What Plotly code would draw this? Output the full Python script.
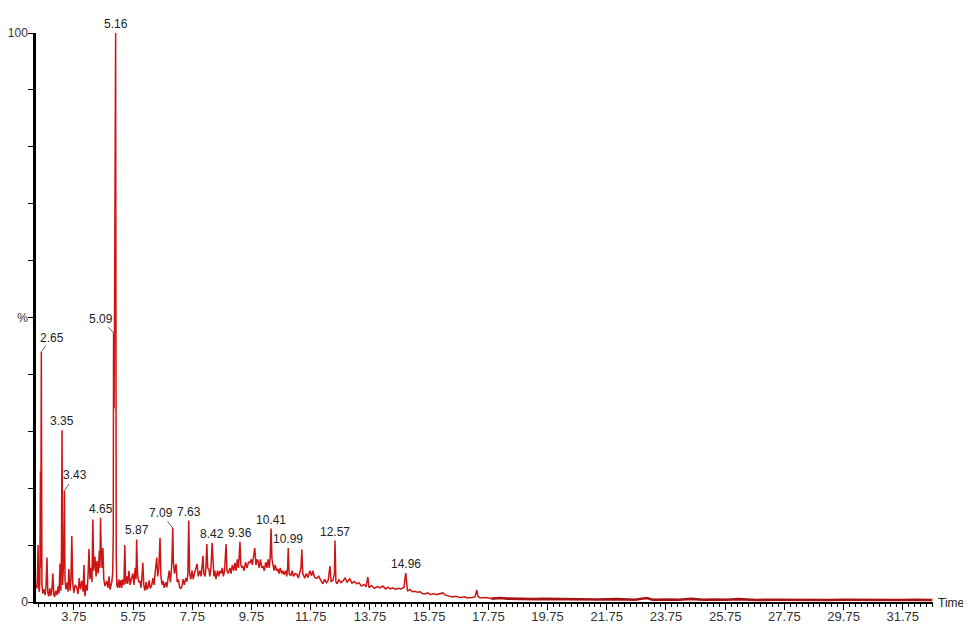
import plotly.graph_objects as go

# ---- data: retention time (min) and relative intensity (%) ----
t_early = [2.47, 2.50, 2.52, 2.54, 2.56, 2.58, 2.60, 2.62, 2.63, 2.65, 2.67, 2.70, 2.74, 2.78, 2.81,
           2.84, 2.87, 2.90, 2.94, 2.97, 3.00, 3.04, 3.07, 3.10, 3.14, 3.18, 3.22, 3.25, 3.28, 3.31,
           3.33, 3.35, 3.37, 3.39, 3.41, 3.43, 3.45, 3.48, 3.52, 3.55, 3.58, 3.62, 3.65, 3.68, 3.71,
           3.75, 3.79, 3.85, 3.89, 3.93, 3.97, 4.02, 4.06, 4.09, 4.12, 4.16, 4.20, 4.23, 4.26, 4.29,
           4.33, 4.36, 4.39, 4.42, 4.46, 4.50, 4.53, 4.57, 4.61, 4.63, 4.65, 4.67, 4.70, 4.73, 4.76,
           4.80, 4.86, 4.90, 4.94, 4.97, 5.00, 5.03, 5.06, 5.08, 5.09, 5.11, 5.13, 5.14, 5.16, 5.18,
           5.20, 5.23, 5.27, 5.30, 5.34]
i_early = [3.0, 2.4, 4.5, 10.0, 2.8, 1.8, 3.5, 23.0, 6.0, 44.0, 3.0, 1.5, 2.2, 1.2, 3.0,
           7.8, 1.6, 1.0, 2.4, 1.1, 1.8, 5.0, 1.3, 0.9, 2.0, 1.2, 2.8, 1.5, 6.7, 2.0,
           9.3, 30.2, 3.0, 5.5, 8.0, 19.6, 4.0, 2.2, 3.4, 1.8, 5.8, 2.0, 4.0, 11.6, 3.2,
           1.6, 3.0, 2.5, 1.4, 4.2, 2.2, 3.7, 1.8, 6.5, 1.0, 3.0, 2.0, 5.0, 9.3, 4.0,
           6.0, 3.5, 14.5, 5.5, 8.0, 4.5, 7.2, 5.0, 9.0, 6.0, 14.8, 9.5, 6.0, 9.5, 4.0,
           2.8, 3.7, 2.5, 4.5, 2.2, 2.8, 3.5, 5.0, 12.0, 47.3, 34.0, 60.0, 96.0, 100.0, 8.0,
           3.0, 2.5, 4.0, 2.5, 3.8]

t_mid = [5.37, 5.40, 5.44, 5.47, 5.50, 5.54, 5.57, 5.61, 5.65, 5.70, 5.74, 5.78, 5.82, 5.85, 5.87,
         5.90, 5.94, 5.98, 6.02, 6.05, 6.08, 6.11, 6.15, 6.19, 6.22, 6.25, 6.29, 6.33, 6.38, 6.42,
         6.46, 6.50, 6.55, 6.58, 6.62, 6.66, 6.69, 6.73, 6.76, 6.80, 6.85, 6.89, 6.93, 6.97, 7.01,
         7.05, 7.07, 7.09, 7.11, 7.15, 7.20, 7.24, 7.28, 7.32, 7.36, 7.40, 7.44, 7.48, 7.53, 7.57,
         7.60, 7.63, 7.66, 7.70, 7.74, 7.78, 7.82, 7.86, 7.91, 7.95, 7.98, 8.01, 8.05, 8.08, 8.11,
         8.14, 8.18, 8.21, 8.24, 8.27, 8.31, 8.34, 8.38, 8.42, 8.45, 8.48, 8.51, 8.55, 8.60, 8.64,
         8.68, 8.72, 8.76, 8.80, 8.84, 8.89, 8.92, 8.96, 9.02, 9.06, 9.10, 9.15, 9.19, 9.23, 9.27,
         9.31, 9.36, 9.39, 9.43, 9.46, 9.50, 9.55, 9.60, 9.65, 9.70, 9.74, 9.78, 9.82, 9.86, 9.90,
         9.94, 9.97, 10.01, 10.05, 10.10, 10.14, 10.18, 10.23, 10.27, 10.31, 10.35, 10.38, 10.41, 10.44, 10.47,
         10.51, 10.55, 10.60, 10.64, 10.68, 10.72, 10.77, 10.81, 10.85, 10.90, 10.94, 10.97, 10.99, 11.02, 11.08,
         11.12, 11.17, 11.22, 11.28, 11.33, 11.38, 11.42, 11.45, 11.48, 11.55, 11.60, 11.66, 11.72, 11.78, 11.82,
         11.88, 11.96]
i_mid = [2.5, 4.0, 3.0, 10.0, 3.2, 4.5, 3.2, 5.5, 3.0, 4.2, 5.0, 3.0, 6.0, 4.0, 11.0,
         5.0, 3.5, 3.7, 2.5, 4.5, 6.9, 3.0, 2.0, 3.5, 2.2, 2.5, 3.8, 2.4, 3.0, 4.2,
         3.0, 5.5, 7.8, 4.5, 6.0, 11.3, 4.5, 3.0, 3.7, 2.5, 3.5, 2.6, 4.2, 5.5, 3.5,
         6.0, 9.0, 13.0, 7.0, 5.0, 6.7, 3.5, 4.0, 2.6, 2.3, 2.8, 4.0, 3.0, 4.2, 3.6,
         5.0, 14.3, 5.0, 4.0, 5.5, 4.0, 5.0, 6.0, 6.7, 4.5, 5.0, 5.5, 4.5, 6.5, 8.1,
         5.0, 4.5, 6.0, 10.2, 6.0, 5.8, 4.5, 6.0, 10.4, 5.5, 4.5, 5.5, 4.0, 5.5, 4.5,
         5.5, 5.0, 6.0, 4.5, 5.5, 10.2, 5.5, 5.0, 6.0, 5.0, 6.5, 5.5, 6.9, 5.5, 7.5,
         6.0, 10.6, 6.5, 6.0, 6.3, 5.5, 7.0, 6.0, 7.0, 6.9, 7.5, 6.5, 8.5, 9.5, 6.5,
         7.5, 7.2, 6.0, 7.5, 6.0, 6.3, 5.5, 7.0, 6.0, 7.5, 6.0, 8.0, 12.9, 7.6, 6.5,
         5.5, 6.5, 5.5, 5.8, 5.0, 6.0, 5.0, 5.5, 4.8, 5.5, 4.5, 6.0, 9.5, 5.0, 4.6,
         5.5, 4.5, 5.0, 4.9, 4.2, 5.5, 6.0, 9.2, 5.0, 4.2, 5.0, 4.3, 5.5, 4.6, 5.5,
         4.3, 4.1]

t_late = [12.02, 12.06, 12.11, 12.16, 12.22, 12.28, 12.34, 12.40, 12.44, 12.50, 12.55, 12.57, 12.60, 12.64, 12.70,
          12.77, 12.84, 12.91, 12.98, 13.07, 13.14, 13.22, 13.31, 13.38, 13.46, 13.55, 13.62, 13.68, 13.72, 13.80,
          13.90, 14.00, 14.09, 14.18, 14.28, 14.36, 14.43, 14.52, 14.62, 14.70, 14.80, 14.90, 14.96, 15.02, 15.10,
          15.18, 15.27, 15.36, 15.45, 15.52, 15.61, 15.70, 15.80, 15.90, 16.00, 16.10, 16.22, 16.30, 16.40, 16.55,
          16.65, 16.80, 16.95, 17.03, 17.20, 17.30, 17.36, 17.40, 17.47, 17.65, 17.85]
i_late = [4.6, 4.1, 3.5, 3.2, 4.0, 3.4, 3.8, 6.3, 3.6, 3.8, 5.0, 10.8, 3.5, 3.2, 3.9,
          3.4, 3.7, 4.2, 3.5, 4.1, 3.3, 3.6, 3.2, 3.4, 2.8, 3.1, 2.7, 4.4, 2.5, 2.9,
          2.4, 2.7, 2.5, 2.8, 2.3, 2.6, 2.3, 2.5, 2.2, 2.4, 2.3, 2.6, 5.1, 1.9, 2.2,
          1.8, 1.9, 1.7, 1.8, 1.5, 1.4, 1.6, 1.3, 1.5, 1.3, 1.4, 1.6, 1.2, 1.1, 0.9,
          1.0, 0.8, 0.9, 0.7, 0.8, 0.9, 2.1, 1.0, 0.7, 0.8, 0.6]

t_tail = [18.14, 18.40, 18.70, 19.00, 19.26, 19.60, 20.00, 20.40, 20.95, 21.40, 22.10, 22.70, 23.10, 23.30, 23.80,
          24.20, 24.60, 25.00, 25.40, 25.80, 26.20, 26.80, 27.40, 28.00, 28.60, 29.20, 29.80, 30.40, 31.00, 31.60,
          32.20, 32.75]
i_tail = [0.7, 0.6, 0.55, 0.6, 0.5, 0.55, 0.5, 0.45, 0.5, 0.45, 0.5, 0.4, 0.7, 0.4, 0.45,
          0.4, 0.55, 0.4, 0.45, 0.4, 0.5, 0.35, 0.4, 0.35, 0.4, 0.35, 0.4, 0.35, 0.4, 0.35,
          0.4, 0.35]

# peak labels
peak_labels = ["2.65", "3.35", "3.43", "4.65", "5.09", "5.16", "5.87", "7.09", "7.63",
               "8.42", "9.36", "10.41", "10.99", "12.57", "14.96"]
peak_heights = [44.0, 30.2, 19.6, 14.8, 47.3, 100.0, 11.0, 13.0, 14.3,
                10.4, 10.6, 12.9, 9.5, 10.8, 5.1]
# labels drawn with a short leader line: label -> (dx, dy) offset in px
leader_offsets = {"2.65": (11, -14), "3.43": (11, -15), "5.09": (-13, -14), "7.09": (-12, -15)}

x_ticks = [3.75, 5.75, 7.75, 9.75, 11.75, 13.75, 15.75, 17.75, 19.75, 21.75,
           23.75, 25.75, 27.75, 29.75, 31.75]
y_ticks = [0, 10, 20, 30, 40, 50, 60, 70, 80, 90, 100]
y_tick_text = ["0", "", "", "", "", "%", "", "", "", "", "100"]

RED = "#cf1414"
FONT = "Liberation Sans, Arial"

fig = go.Figure()
segments = [(t_early, i_early), (t_mid, i_mid), (t_late, i_late)]
prev = None
for ts, vs in segments:
    xs = list(ts)
    ys = list(vs)
    if prev is not None:
        xs = [prev[0]] + xs
        ys = [prev[1]] + ys
    fig.add_trace(go.Scatter(x=xs, y=ys, mode="lines",
                             line=dict(color=RED, width=1.5), hoverinfo="skip"))
    prev = (ts[-1], vs[-1])

fig.add_trace(go.Scatter(x=[prev[0]] + t_tail, y=[prev[1]] + i_tail, mode="lines",
                         line=dict(color="#a81414", width=2.6), hoverinfo="skip"))

for lab, h in zip(peak_labels, peak_heights):
    x = float(lab)
    if lab in leader_offsets:
        dx, dy = leader_offsets[lab]
        fig.add_annotation(x=x, y=h, text=lab, showarrow=True, arrowhead=0,
                           arrowwidth=0.8, arrowcolor="#333333", ax=dx, ay=dy,
                           font=dict(family=FONT, size=12, color="#222222"))
    else:
        fig.add_annotation(x=x, y=h, text=lab, showarrow=False, yanchor="bottom",
                           yshift=0,
                           font=dict(family=FONT, size=12, color="#222222"))

fig.add_annotation(xref="paper", yref="paper", x=1, y=0, text="Time", showarrow=False,
                   xanchor="left", yanchor="middle", xshift=3, yshift=-1,
                   font=dict(family=FONT, size=12, color="#222222"))

fig.update_layout(
    width=963, height=618,
    margin=dict(l=28, r=38, t=25, b=24, autoexpand=False),
    paper_bgcolor="white", plot_bgcolor="white",
    showlegend=False,
    font=dict(family=FONT, size=12, color="#333333"),
)
fig.update_xaxes(range=[2.47, 32.77], showgrid=False, zeroline=False, automargin=False,
                 showline=True, linecolor="black", linewidth=2,
                 tickvals=x_ticks, tickformat=".2f", ticks="outside", ticklen=6,
                 tickcolor="black", tickwidth=1, ticklabelstandoff=-5,
                 tickfont=dict(size=13, color="#333333"),
                 minor=dict(dtick=0.2, tick0=3.75, ticks="outside", ticklen=3,
                            tickcolor="black", tickwidth=1))
fig.update_yaxes(range=[0, 100], showgrid=False, zeroline=False, automargin=False,
                 showline=True, linecolor="black", linewidth=2.5,
                 tickvals=y_ticks, ticktext=y_tick_text, ticks="outside", ticklen=5,
                 tickcolor="black", tickwidth=1, ticklabelstandoff=-2,
                 tickfont=dict(size=12, color="#333333"))

fig.write_html("out.html")
